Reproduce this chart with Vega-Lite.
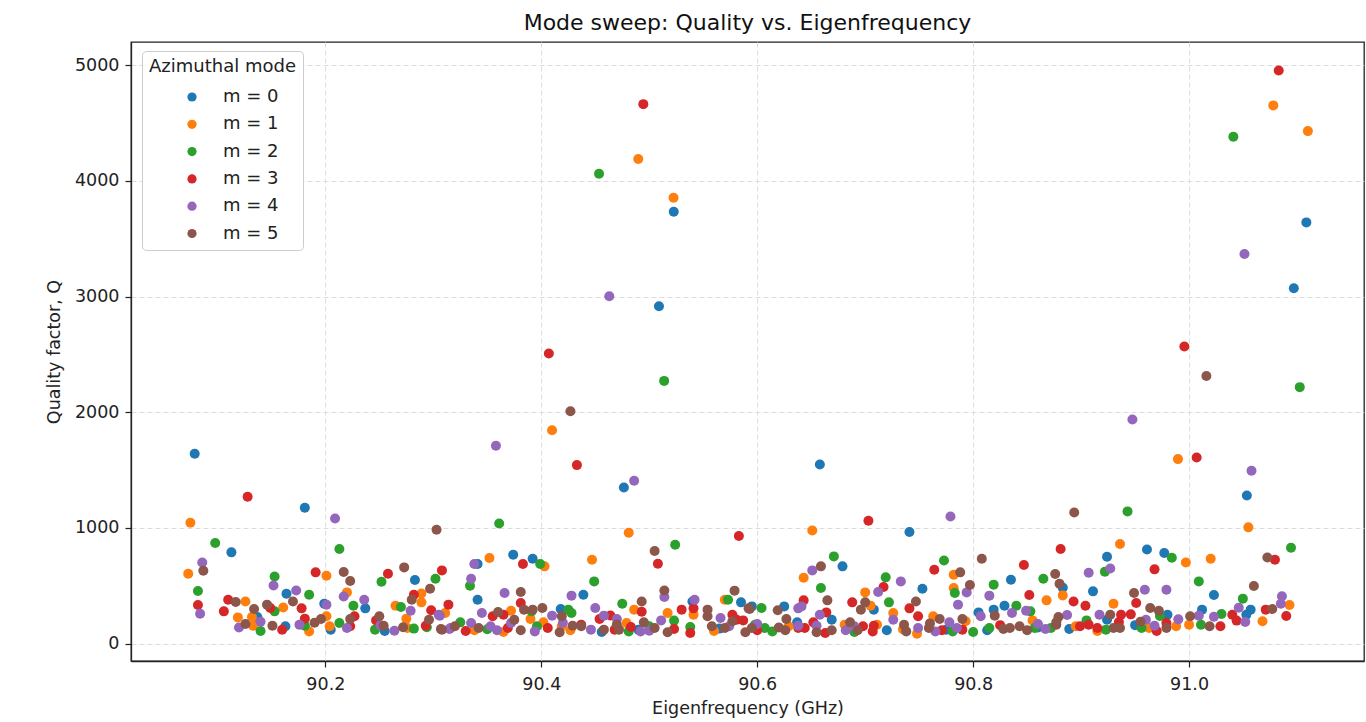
{
"$schema":"https://vega.github.io/schema/vega-lite/v6.json",
"autosize":{"type":"none"},
"width":1233,"height":619,
"padding":{"left":131,"top":42,"right":2,"bottom":61},
"background":"white",
"title":{"text":"Mode sweep: Quality vs. Eigenfrequency","fontSize":22,"font":"DejaVu Sans","fontWeight":"normal","color":"#111","offset":7,"anchor":"middle"},
"config":{"view":{"stroke":"#222","strokeWidth":1.3},"font":"DejaVu Sans"},
"datasets":{"pts":[
{"m":"m = 0","f":90.079,"q":1641},{"m":"m = 0","f":90.113,"q":789},{"m":"m = 0","f":90.181,"q":1174},{"m":"m = 0","f":90.4765,"q":1350},{"m":"m = 0","f":90.509,"q":2916},{"m":"m = 0","f":90.5227,"q":3733},{"m":"m = 0","f":90.658,"q":1548},{"m":"m = 0","f":91.1086,"q":3641},{"m":"m = 0","f":91.097,"q":3072},{"m":"m = 0","f":91.0535,"q":1281},{"m":"m = 0","f":90.924,"q":751},{"m":"m = 0","f":90.961,"q":814},{"m":"m = 0","f":90.977,"q":783},{"m":"m = 0","f":90.883,"q":484},{"m":"m = 0","f":91.023,"q":420},{"m":"m = 0","f":90.911,"q":452},{"m":"m = 0","f":91.057,"q":294},{"m":"m = 0","f":91.053,"q":250},{"m":"m = 0","f":91.012,"q":294},{"m":"m = 0","f":90.98,"q":250},{"m":"m = 0","f":90.924,"q":207},{"m":"m = 0","f":90.889,"q":127},{"m":"m = 0","f":90.283,"q":550},{"m":"m = 0","f":90.237,"q":305},{"m":"m = 0","f":90.205,"q":121},{"m":"m = 0","f":90.199,"q":345},{"m":"m = 0","f":90.164,"q":432},{"m":"m = 0","f":90.163,"q":150},{"m":"m = 0","f":90.137,"q":231},{"m":"m = 0","f":90.374,"q":768},{"m":"m = 0","f":90.392,"q":734},{"m":"m = 0","f":90.341,"q":380},{"m":"m = 0","f":90.439,"q":423},{"m":"m = 0","f":90.456,"q":101},{"m":"m = 0","f":90.418,"q":300},{"m":"m = 0","f":90.585,"q":357},{"m":"m = 0","f":90.54,"q":365},{"m":"m = 0","f":90.741,"q":965},{"m":"m = 0","f":90.679,"q":668},{"m":"m = 0","f":90.625,"q":322},{"m":"m = 0","f":90.595,"q":322},{"m":"m = 0","f":90.637,"q":184},{"m":"m = 0","f":90.669,"q":207},{"m":"m = 0","f":90.708,"q":294},{"m":"m = 0","f":90.72,"q":115},{"m":"m = 0","f":90.753,"q":475},{"m":"m = 0","f":90.805,"q":270},{"m":"m = 0","f":90.829,"q":328},{"m":"m = 0","f":90.835,"q":553},{"m":"m = 0","f":90.819,"q":294},{"m":"m = 0","f":90.813,"q":115},{"m":"m = 0","f":90.341,"q":688},{"m":"m = 0","f":90.255,"q":110},{"m":"m = 0","f":90.49,"q":120},{"m":"m = 0","f":90.565,"q":130},{"m":"m = 0","f":90.775,"q":120},{"m":"m = 0","f":90.86,"q":140},{"m":"m = 0","f":90.95,"q":160},
{"m":"m = 1","f":90.4898,"q":4188},{"m":"m = 1","f":90.5225,"q":3854},{"m":"m = 1","f":91.078,"q":4652},{"m":"m = 1","f":91.11,"q":4430},{"m":"m = 1","f":90.9897,"q":1595},{"m":"m = 1","f":91.0549,"q":1005},{"m":"m = 1","f":90.936,"q":861},{"m":"m = 1","f":90.997,"q":702},{"m":"m = 1","f":91.02,"q":734},{"m":"m = 1","f":90.868,"q":374},{"m":"m = 1","f":90.883,"q":417},{"m":"m = 1","f":90.93,"q":345},{"m":"m = 1","f":91.093,"q":334},{"m":"m = 1","f":91.068,"q":193},{"m":"m = 1","f":91.0,"q":164},{"m":"m = 1","f":90.988,"q":150},{"m":"m = 1","f":90.963,"q":135},{"m":"m = 1","f":90.895,"q":150},{"m":"m = 1","f":90.075,"q":1045},{"m":"m = 1","f":90.073,"q":604},{"m":"m = 1","f":90.201,"q":587},{"m":"m = 1","f":90.289,"q":434},{"m":"m = 1","f":90.289,"q":357},{"m":"m = 1","f":90.265,"q":328},{"m":"m = 1","f":90.275,"q":216},{"m":"m = 1","f":90.22,"q":443},{"m":"m = 1","f":90.204,"q":150},{"m":"m = 1","f":90.201,"q":236},{"m":"m = 1","f":90.161,"q":313},{"m":"m = 1","f":90.133,"q":155},{"m":"m = 1","f":90.132,"q":231},{"m":"m = 1","f":90.126,"q":365},{"m":"m = 1","f":90.119,"q":227},{"m":"m = 1","f":90.276,"q":135},{"m":"m = 1","f":90.41,"q":1845},{"m":"m = 1","f":90.481,"q":959},{"m":"m = 1","f":90.352,"q":740},{"m":"m = 1","f":90.403,"q":668},{"m":"m = 1","f":90.447,"q":725},{"m":"m = 1","f":90.486,"q":294},{"m":"m = 1","f":90.541,"q":250},{"m":"m = 1","f":90.517,"q":265},{"m":"m = 1","f":90.479,"q":179},{"m":"m = 1","f":90.427,"q":115},{"m":"m = 1","f":90.419,"q":150},{"m":"m = 1","f":90.402,"q":184},{"m":"m = 1","f":90.39,"q":213},{"m":"m = 1","f":90.372,"q":285},{"m":"m = 1","f":90.338,"q":115},{"m":"m = 1","f":90.311,"q":265},{"m":"m = 1","f":90.57,"q":380},{"m":"m = 1","f":90.651,"q":978},{"m":"m = 1","f":90.643,"q":570},{"m":"m = 1","f":90.7,"q":443},{"m":"m = 1","f":90.705,"q":328},{"m":"m = 1","f":90.726,"q":265},{"m":"m = 1","f":90.681,"q":164},{"m":"m = 1","f":90.711,"q":164},{"m":"m = 1","f":90.748,"q":86},{"m":"m = 1","f":90.763,"q":236},{"m":"m = 1","f":90.782,"q":596},{"m":"m = 1","f":90.782,"q":481},{"m":"m = 1","f":90.855,"q":201},{"m":"m = 1","f":90.793,"q":193},{"m":"m = 1","f":90.629,"q":150},{"m":"m = 1","f":90.185,"q":105},{"m":"m = 1","f":90.365,"q":100},{"m":"m = 1","f":90.56,"q":110},{"m":"m = 1","f":90.735,"q":125},{"m":"m = 1","f":90.915,"q":110},
{"m":"m = 2","f":90.4535,"q":4061},{"m":"m = 2","f":90.5138,"q":2271},{"m":"m = 2","f":91.041,"q":4381},{"m":"m = 2","f":91.1025,"q":2217},{"m":"m = 2","f":90.943,"q":1143},{"m":"m = 2","f":91.0944,"q":829},{"m":"m = 2","f":90.984,"q":743},{"m":"m = 2","f":90.922,"q":622},{"m":"m = 2","f":90.865,"q":561},{"m":"m = 2","f":91.009,"q":538},{"m":"m = 2","f":91.0498,"q":389},{"m":"m = 2","f":91.03,"q":256},{"m":"m = 2","f":91.011,"q":164},{"m":"m = 2","f":90.973,"q":239},{"m":"m = 2","f":90.956,"q":135},{"m":"m = 2","f":90.923,"q":121},{"m":"m = 2","f":90.905,"q":201},{"m":"m = 2","f":90.872,"q":135},{"m":"m = 2","f":90.098,"q":870},{"m":"m = 2","f":90.213,"q":818},{"m":"m = 2","f":90.153,"q":581},{"m":"m = 2","f":90.252,"q":535},{"m":"m = 2","f":90.302,"q":561},{"m":"m = 2","f":90.27,"q":317},{"m":"m = 2","f":90.246,"q":121},{"m":"m = 2","f":90.282,"q":130},{"m":"m = 2","f":90.294,"q":141},{"m":"m = 2","f":90.226,"q":328},{"m":"m = 2","f":90.213,"q":179},{"m":"m = 2","f":90.181,"q":155},{"m":"m = 2","f":90.185,"q":423},{"m":"m = 2","f":90.153,"q":279},{"m":"m = 2","f":90.082,"q":455},{"m":"m = 2","f":90.361,"q":1039},{"m":"m = 2","f":90.524,"q":855},{"m":"m = 2","f":90.399,"q":688},{"m":"m = 2","f":90.449,"q":538},{"m":"m = 2","f":90.334,"q":501},{"m":"m = 2","f":90.475,"q":345},{"m":"m = 2","f":90.573,"q":380},{"m":"m = 2","f":90.538,"q":144},{"m":"m = 2","f":90.523,"q":199},{"m":"m = 2","f":90.425,"q":294},{"m":"m = 2","f":90.428,"q":265},{"m":"m = 2","f":90.396,"q":150},{"m":"m = 2","f":90.391,"q":279},{"m":"m = 2","f":90.325,"q":184},{"m":"m = 2","f":90.481,"q":106},{"m":"m = 2","f":90.671,"q":754},{"m":"m = 2","f":90.659,"q":481},{"m":"m = 2","f":90.604,"q":308},{"m":"m = 2","f":90.607,"q":135},{"m":"m = 2","f":90.614,"q":106},{"m":"m = 2","f":90.598,"q":164},{"m":"m = 2","f":90.719,"q":573},{"m":"m = 2","f":90.722,"q":357},{"m":"m = 2","f":90.773,"q":719},{"m":"m = 2","f":90.783,"q":438},{"m":"m = 2","f":90.781,"q":106},{"m":"m = 2","f":90.819,"q":510},{"m":"m = 2","f":90.815,"q":135},{"m":"m = 2","f":90.84,"q":328},{"m":"m = 2","f":90.857,"q":135},{"m":"m = 2","f":90.853,"q":279},{"m":"m = 2","f":90.14,"q":110},{"m":"m = 2","f":90.35,"q":125},{"m":"m = 2","f":90.5,"q":150},{"m":"m = 2","f":90.69,"q":100},{"m":"m = 2","f":90.8,"q":100},
{"m":"m = 3","f":90.4945,"q":4663},{"m":"m = 3","f":90.407,"q":2507},{"m":"m = 3","f":91.083,"q":4954},{"m":"m = 3","f":90.9956,"q":2568},{"m":"m = 3","f":91.007,"q":1609},{"m":"m = 3","f":90.881,"q":818},{"m":"m = 3","f":91.0795,"q":725},{"m":"m = 3","f":90.968,"q":642},{"m":"m = 3","f":90.951,"q":351},{"m":"m = 3","f":90.893,"q":365},{"m":"m = 3","f":90.904,"q":328},{"m":"m = 3","f":91.071,"q":294},{"m":"m = 3","f":91.09,"q":239},{"m":"m = 3","f":91.04,"q":250},{"m":"m = 3","f":91.044,"q":199},{"m":"m = 3","f":91.029,"q":150},{"m":"m = 3","f":90.979,"q":179},{"m":"m = 3","f":90.946,"q":253},{"m":"m = 3","f":90.937,"q":250},{"m":"m = 3","f":90.935,"q":187},{"m":"m = 3","f":90.915,"q":135},{"m":"m = 3","f":90.907,"q":164},{"m":"m = 3","f":90.899,"q":150},{"m":"m = 3","f":90.128,"q":1269},{"m":"m = 3","f":90.191,"q":616},{"m":"m = 3","f":90.258,"q":604},{"m":"m = 3","f":90.308,"q":633},{"m":"m = 3","f":90.282,"q":423},{"m":"m = 3","f":90.298,"q":288},{"m":"m = 3","f":90.293,"q":155},{"m":"m = 3","f":90.247,"q":201},{"m":"m = 3","f":90.314,"q":337},{"m":"m = 3","f":90.227,"q":236},{"m":"m = 3","f":90.223,"q":150},{"m":"m = 3","f":90.178,"q":305},{"m":"m = 3","f":90.181,"q":216},{"m":"m = 3","f":90.149,"q":308},{"m":"m = 3","f":90.11,"q":380},{"m":"m = 3","f":90.106,"q":279},{"m":"m = 3","f":90.082,"q":334},{"m":"m = 3","f":90.433,"q":1543},{"m":"m = 3","f":90.583,"q":930},{"m":"m = 3","f":90.508,"q":691},{"m":"m = 3","f":90.383,"q":688},{"m":"m = 3","f":90.381,"q":351},{"m":"m = 3","f":90.493,"q":276},{"m":"m = 3","f":90.53,"q":294},{"m":"m = 3","f":90.541,"q":305},{"m":"m = 3","f":90.577,"q":250},{"m":"m = 3","f":90.587,"q":201},{"m":"m = 3","f":90.538,"q":92},{"m":"m = 3","f":90.523,"q":127},{"m":"m = 3","f":90.483,"q":144},{"m":"m = 3","f":90.468,"q":121},{"m":"m = 3","f":90.464,"q":244},{"m":"m = 3","f":90.454,"q":213},{"m":"m = 3","f":90.437,"q":164},{"m":"m = 3","f":90.406,"q":135},{"m":"m = 3","f":90.369,"q":135},{"m":"m = 3","f":90.365,"q":250},{"m":"m = 3","f":90.355,"q":236},{"m":"m = 3","f":90.703,"q":1062},{"m":"m = 3","f":90.643,"q":374},{"m":"m = 3","f":90.581,"q":207},{"m":"m = 3","f":90.638,"q":135},{"m":"m = 3","f":90.652,"q":184},{"m":"m = 3","f":90.664,"q":270},{"m":"m = 3","f":90.663,"q":92},{"m":"m = 3","f":90.688,"q":357},{"m":"m = 3","f":90.717,"q":490},{"m":"m = 3","f":90.698,"q":150},{"m":"m = 3","f":90.707,"q":106},{"m":"m = 3","f":90.708,"q":155},{"m":"m = 3","f":90.741,"q":305},{"m":"m = 3","f":90.749,"q":236},{"m":"m = 3","f":90.764,"q":639},{"m":"m = 3","f":90.771,"q":115},{"m":"m = 3","f":90.79,"q":121},{"m":"m = 3","f":90.847,"q":680},{"m":"m = 3","f":90.852,"q":420},{"m":"m = 3","f":90.644,"q":135},{"m":"m = 3","f":90.16,"q":120},{"m":"m = 3","f":90.33,"q":110},{"m":"m = 3","f":90.6,"q":115},{"m":"m = 3","f":90.825,"q":160},{"m":"m = 3","f":90.97,"q":110},
{"m":"m = 4","f":90.463,"q":3003},{"m":"m = 4","f":91.0513,"q":3368},{"m":"m = 4","f":90.9475,"q":1937},{"m":"m = 4","f":91.0578,"q":1494},{"m":"m = 4","f":90.907,"q":613},{"m":"m = 4","f":90.927,"q":650},{"m":"m = 4","f":90.959,"q":466},{"m":"m = 4","f":90.979,"q":466},{"m":"m = 4","f":91.086,"q":409},{"m":"m = 4","f":91.085,"q":345},{"m":"m = 4","f":91.046,"q":311},{"m":"m = 4","f":91.052,"q":187},{"m":"m = 4","f":91.023,"q":233},{"m":"m = 4","f":91.009,"q":242},{"m":"m = 4","f":90.968,"q":155},{"m":"m = 4","f":90.96,"q":207},{"m":"m = 4","f":90.917,"q":250},{"m":"m = 4","f":90.887,"q":248},{"m":"m = 4","f":90.867,"q":127},{"m":"m = 4","f":90.209,"q":1082},{"m":"m = 4","f":90.086,"q":702},{"m":"m = 4","f":90.152,"q":503},{"m":"m = 4","f":90.279,"q":285},{"m":"m = 4","f":90.305,"q":250},{"m":"m = 4","f":90.251,"q":158},{"m":"m = 4","f":90.264,"q":112},{"m":"m = 4","f":90.315,"q":127},{"m":"m = 4","f":90.236,"q":380},{"m":"m = 4","f":90.217,"q":408},{"m":"m = 4","f":90.22,"q":135},{"m":"m = 4","f":90.201,"q":337},{"m":"m = 4","f":90.173,"q":460},{"m":"m = 4","f":90.176,"q":164},{"m":"m = 4","f":90.14,"q":190},{"m":"m = 4","f":90.084,"q":259},{"m":"m = 4","f":90.358,"q":1710},{"m":"m = 4","f":90.486,"q":1408},{"m":"m = 4","f":90.338,"q":688},{"m":"m = 4","f":90.335,"q":561},{"m":"m = 4","f":90.366,"q":438},{"m":"m = 4","f":90.428,"q":415},{"m":"m = 4","f":90.45,"q":308},{"m":"m = 4","f":90.514,"q":403},{"m":"m = 4","f":90.542,"q":380},{"m":"m = 4","f":90.566,"q":222},{"m":"m = 4","f":90.574,"q":150},{"m":"m = 4","f":90.511,"q":201},{"m":"m = 4","f":90.5,"q":112},{"m":"m = 4","f":90.492,"q":106},{"m":"m = 4","f":90.47,"q":213},{"m":"m = 4","f":90.458,"q":242},{"m":"m = 4","f":90.446,"q":121},{"m":"m = 4","f":90.41,"q":242},{"m":"m = 4","f":90.394,"q":106},{"m":"m = 4","f":90.372,"q":179},{"m":"m = 4","f":90.359,"q":115},{"m":"m = 4","f":90.353,"q":150},{"m":"m = 4","f":90.345,"q":265},{"m":"m = 4","f":90.335,"q":179},{"m":"m = 4","f":90.316,"q":135},{"m":"m = 4","f":90.306,"q":242},{"m":"m = 4","f":90.779,"q":1099},{"m":"m = 4","f":90.651,"q":633},{"m":"m = 4","f":90.638,"q":305},{"m":"m = 4","f":90.641,"q":322},{"m":"m = 4","f":90.638,"q":155},{"m":"m = 4","f":90.655,"q":155},{"m":"m = 4","f":90.658,"q":250},{"m":"m = 4","f":90.682,"q":115},{"m":"m = 4","f":90.69,"q":150},{"m":"m = 4","f":90.712,"q":446},{"m":"m = 4","f":90.726,"q":207},{"m":"m = 4","f":90.733,"q":538},{"m":"m = 4","f":90.749,"q":135},{"m":"m = 4","f":90.765,"q":106},{"m":"m = 4","f":90.786,"q":337},{"m":"m = 4","f":90.794,"q":443},{"m":"m = 4","f":90.778,"q":184},{"m":"m = 4","f":90.785,"q":135},{"m":"m = 4","f":90.807,"q":236},{"m":"m = 4","f":90.815,"q":415},{"m":"m = 4","f":90.836,"q":265},{"m":"m = 4","f":90.849,"q":285},{"m":"m = 4","f":90.12,"q":140},{"m":"m = 4","f":90.42,"q":180},{"m":"m = 4","f":90.6,"q":170},{"m":"m = 4","f":90.86,"q":170},{"m":"m = 4","f":90.99,"q":210},
{"m":"m = 5","f":91.016,"q":2314},{"m":"m = 5","f":90.8936,"q":1134},{"m":"m = 5","f":91.0725,"q":745},{"m":"m = 5","f":90.876,"q":602},{"m":"m = 5","f":90.88,"q":518},{"m":"m = 5","f":91.06,"q":498},{"m":"m = 5","f":90.949,"q":438},{"m":"m = 5","f":91.077,"q":300},{"m":"m = 5","f":91.019,"q":150},{"m":"m = 5","f":91.001,"q":236},{"m":"m = 5","f":90.979,"q":135},{"m":"m = 5","f":90.964,"q":308},{"m":"m = 5","f":90.972,"q":285},{"m":"m = 5","f":90.927,"q":250},{"m":"m = 5","f":90.936,"q":135},{"m":"m = 5","f":90.93,"q":135},{"m":"m = 5","f":90.879,"q":231},{"m":"m = 5","f":90.877,"q":164},{"m":"m = 5","f":90.303,"q":984},{"m":"m = 5","f":90.087,"q":630},{"m":"m = 5","f":90.217,"q":619},{"m":"m = 5","f":90.223,"q":541},{"m":"m = 5","f":90.273,"q":659},{"m":"m = 5","f":90.297,"q":475},{"m":"m = 5","f":90.28,"q":380},{"m":"m = 5","f":90.296,"q":207},{"m":"m = 5","f":90.307,"q":127},{"m":"m = 5","f":90.25,"q":236},{"m":"m = 5","f":90.254,"q":155},{"m":"m = 5","f":90.272,"q":141},{"m":"m = 5","f":90.223,"q":213},{"m":"m = 5","f":90.196,"q":213},{"m":"m = 5","f":90.17,"q":365},{"m":"m = 5","f":90.146,"q":337},{"m":"m = 5","f":90.151,"q":155},{"m":"m = 5","f":90.134,"q":300},{"m":"m = 5","f":90.117,"q":360},{"m":"m = 5","f":90.126,"q":170},{"m":"m = 5","f":90.427,"q":2009},{"m":"m = 5","f":90.505,"q":800},{"m":"m = 5","f":90.381,"q":446},{"m":"m = 5","f":90.401,"q":308},{"m":"m = 5","f":90.493,"q":365},{"m":"m = 5","f":90.514,"q":460},{"m":"m = 5","f":90.579,"q":458},{"m":"m = 5","f":90.592,"q":305},{"m":"m = 5","f":90.554,"q":294},{"m":"m = 5","f":90.554,"q":236},{"m":"m = 5","f":90.577,"q":193},{"m":"m = 5","f":90.558,"q":150},{"m":"m = 5","f":90.57,"q":135},{"m":"m = 5","f":90.589,"q":98},{"m":"m = 5","f":90.517,"q":98},{"m":"m = 5","f":90.505,"q":135},{"m":"m = 5","f":90.495,"q":184},{"m":"m = 5","f":90.472,"q":121},{"m":"m = 5","f":90.458,"q":121},{"m":"m = 5","f":90.437,"q":150},{"m":"m = 5","f":90.429,"q":155},{"m":"m = 5","f":90.417,"q":98},{"m":"m = 5","f":90.419,"q":236},{"m":"m = 5","f":90.392,"q":294},{"m":"m = 5","f":90.384,"q":294},{"m":"m = 5","f":90.375,"q":207},{"m":"m = 5","f":90.381,"q":115},{"m":"m = 5","f":90.36,"q":274},{"m":"m = 5","f":90.342,"q":135},{"m":"m = 5","f":90.308,"q":121},{"m":"m = 5","f":90.659,"q":668},{"m":"m = 5","f":90.665,"q":374},{"m":"m = 5","f":90.619,"q":288},{"m":"m = 5","f":90.593,"q":300},{"m":"m = 5","f":90.595,"q":135},{"m":"m = 5","f":90.627,"q":213},{"m":"m = 5","f":90.626,"q":115},{"m":"m = 5","f":90.655,"q":98},{"m":"m = 5","f":90.669,"q":115},{"m":"m = 5","f":90.696,"q":294},{"m":"m = 5","f":90.7,"q":357},{"m":"m = 5","f":90.686,"q":184},{"m":"m = 5","f":90.693,"q":115},{"m":"m = 5","f":90.747,"q":365},{"m":"m = 5","f":90.736,"q":164},{"m":"m = 5","f":90.738,"q":106},{"m":"m = 5","f":90.759,"q":135},{"m":"m = 5","f":90.788,"q":616},{"m":"m = 5","f":90.797,"q":507},{"m":"m = 5","f":90.808,"q":734},{"m":"m = 5","f":90.769,"q":213},{"m":"m = 5","f":90.79,"q":213},{"m":"m = 5","f":90.82,"q":242},{"m":"m = 5","f":90.828,"q":127},{"m":"m = 5","f":90.834,"q":135},{"m":"m = 5","f":90.843,"q":150},{"m":"m = 5","f":90.85,"q":115},{"m":"m = 5","f":90.877,"q":184},{"m":"m = 5","f":90.19,"q":180},{"m":"m = 5","f":90.32,"q":150},{"m":"m = 5","f":90.47,"q":165},{"m":"m = 5","f":90.62,"q":140},{"m":"m = 5","f":90.76,"q":175},{"m":"m = 5","f":90.955,"q":190}
]},
"data":{"name":"pts"},
"mark":{"type":"point","filled":true,"opacity":1,"size":100,"shape":"circle"},
"encoding":{
"x":{"field":"f","type":"quantitative","title":"Eigenfrequency (GHz)",
 "scale":{"domain":[90.02,91.162],"nice":false,"zero":false},
 "axis":{"values":[90.2,90.4,90.6,90.8,91.0],"format":".1f","grid":true,"gridDash":[5,3],"gridColor":"#dcdcdc","gridWidth":1,
  "domainColor":"#222","domainWidth":1.3,"tickColor":"#222","tickSize":6,"tickWidth":1.2,
  "labelFontSize":17.5,"labelColor":"#222","labelPadding":8,"labelFont":"DejaVu Sans",
  "titleFontSize":17.5,"titleFontWeight":"normal","titleColor":"#222","titlePadding":7,"titleFont":"DejaVu Sans"}},
"y":{"field":"q","type":"quantitative","title":"Quality factor, Q",
 "scale":{"domain":[-150,5200],"nice":false,"zero":false},
 "axis":{"values":[0,1000,2000,3000,4000,5000],"format":"d","grid":true,"gridDash":[5,3],"gridColor":"#dcdcdc","gridWidth":1,
  "domainColor":"#222","domainWidth":1.3,"tickColor":"#222","tickSize":6,"tickWidth":1.2,
  "labelFontSize":17.5,"labelColor":"#222","labelPadding":6,"labelFont":"DejaVu Sans",
  "titleFontSize":17.5,"titleFontWeight":"normal","titleColor":"#222","titlePadding":11,"titleFont":"DejaVu Sans"}},
"color":{"field":"m","type":"nominal",
 "scale":{"domain":["m = 0","m = 1","m = 2","m = 3","m = 4","m = 5"],"range":["#1f77b4","#ff7f0e","#2ca02c","#d62728","#9467bd","#8c564b"]},
 "legend":{"title":"Azimuthal mode","orient":"none","legendX":11,"legendY":9,"padding":7,
  "fillColor":"white","strokeColor":"#cccccc","cornerRadius":4,
  "titleFontSize":18,"titleFontWeight":"normal","titleColor":"#222","titleFont":"DejaVu Sans","titlePadding":12,
  "labelFontSize":18,"labelColor":"#222","labelFont":"DejaVu Sans","labelOffset":22,
  "symbolType":"circle","symbolSize":85,"symbolOffset":34,"symbolStrokeWidth":0,"rowPadding":9.3}}
}
}
